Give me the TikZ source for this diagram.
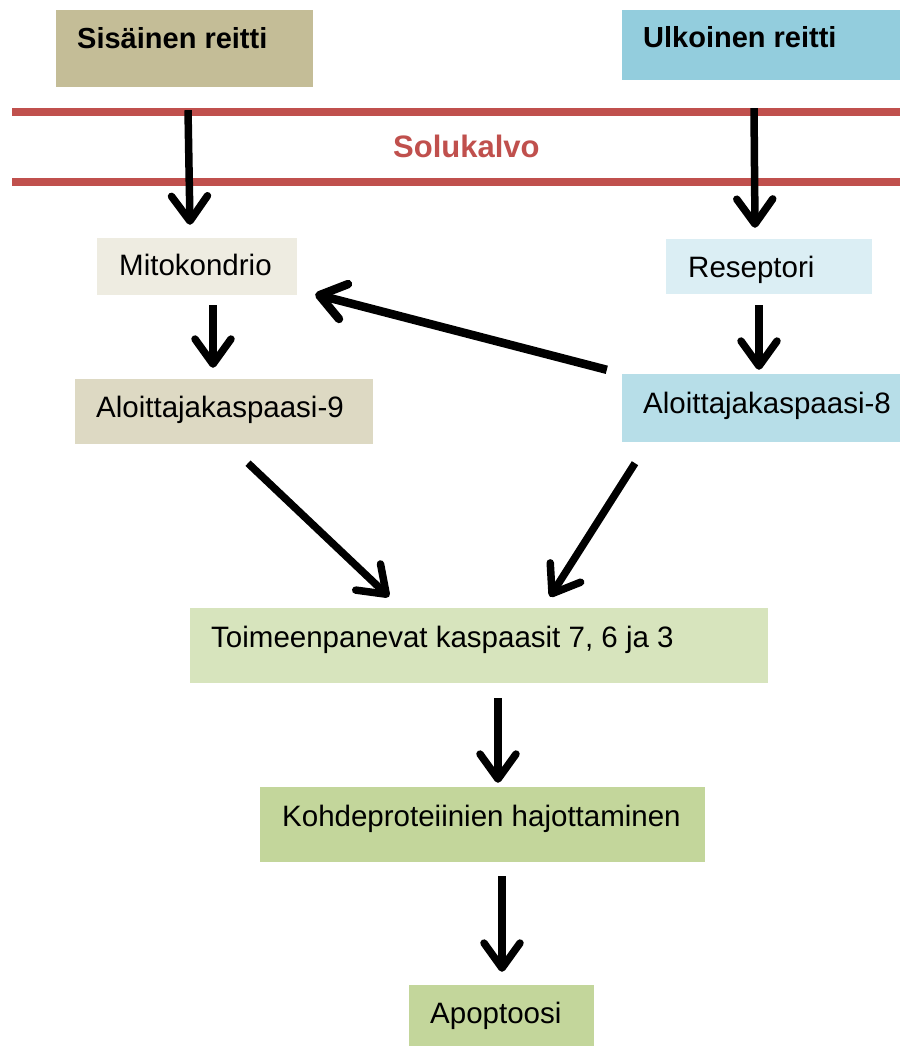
\documentclass[tikz,border=0pt]{standalone}
\usepackage{fontspec}
\setmainfont{Liberation Sans}
\usetikzlibrary{arrows.meta}
\definecolor{cSis}{HTML}{C4BD97}
\definecolor{cUlk}{HTML}{93CDDD}
\definecolor{cMito}{HTML}{EEECE1}
\definecolor{cRes}{HTML}{DBEEF4}
\definecolor{cAlo9}{HTML}{DDD9C3}
\definecolor{cAlo8}{HTML}{B7DEE8}
\definecolor{cToim}{HTML}{D7E4BD}
\definecolor{cKoh}{HTML}{C3D69B}
\definecolor{cRed}{HTML}{C0504D}
\tikzset{
  box/.style={rectangle, draw=none, inner sep=0pt},
  lbl/.style={anchor=base west, inner sep=0pt, font=\fontsize{29.5}{34}\selectfont},
  blbl/.style={lbl, font=\fontsize{29}{34}\selectfont\bfseries},
  arr/.style={line width=7.5pt, -{Straight Barb[length=25pt, width=36pt, round]}},
  membrane/.style={draw=cRed, line width=8pt}
}
\begin{document}
\begin{tikzpicture}[x=1pt, y=-1pt]
\useasboundingbox (0,0) rectangle (900,1048);
% membrane
\coordinate (m1a) at (12,112.5); \coordinate (m1b) at (900,112.5);
\coordinate (m2a) at (12,182); \coordinate (m2b) at (900,182);
\draw[membrane] (m1a) -- (m1b);
\draw[membrane] (m2a) -- (m2b);
\node[blbl, text=cRed, font=\fontsize{31}{36}\selectfont\bfseries] (solu) at (393,158) {Solukalvo};
% boxes
\node[box, fill=cSis, minimum width=257pt, minimum height=77pt] (sis) at (184.5,48.5) {};
\node[box, fill=cUlk, minimum width=278pt, minimum height=70pt] (ulk) at (761,45) {};
\node[box, fill=cMito, minimum width=200pt, minimum height=57pt] (mito) at (197,266.5) {};
\node[box, fill=cRes, minimum width=206pt, minimum height=55pt] (res) at (769,266.5) {};
\node[box, fill=cAlo9, minimum width=298pt, minimum height=65pt] (alo9) at (224,411.5) {};
\node[box, fill=cAlo8, minimum width=278pt, minimum height=68pt] (alo8) at (761,408) {};
\node[box, fill=cToim, minimum width=578pt, minimum height=75pt] (toim) at (479,645.5) {};
\node[box, fill=cKoh, minimum width=445pt, minimum height=75pt] (koh) at (482.5,824.5) {};
\node[box, fill=cKoh, minimum width=185pt, minimum height=61pt] (apo) at (501.5,1015.5) {};
% labels
\node[blbl] (tsis) at (77,49) {Sisäinen reitti};
\node[blbl] (tulk) at (643,48) {Ulkoinen reitti};
\node[lbl] (tmito) at (119,276) {Mitokondrio};
\node[lbl] (tres) at (688,278) {Reseptori};
\node[lbl] (talo9) at (96,417) {Aloittajakaspaasi-9};
\node[lbl] (talo8) at (643,413) {Aloittajakaspaasi-8};
\node[lbl] (ttoim) at (211,647) {Toimeenpanevat kaspaasit 7, 6 ja 3};
\node[lbl] (tkoh) at (282,826) {Kohdeproteiinien hajottaminen};
\node[lbl] (tapo) at (430,1023) {Apoptoosi};
% arrows
\draw[arr] ([shift={(3.5,23)}]sis.south) -- ([shift={(-7,-13)}]mito.north);
\draw[arr] ([shift={(-7,28)}]ulk.south) -- ([shift={(-14,-11)}]res.north);
\draw[arr] ([shift={(16,10)}]mito.south) -- ([shift={(-11,-11)}]alo9.north);
\draw[arr] ([shift={(-10,11)}]res.south) -- ([shift={(-2,-4)}]alo8.north);
\draw[arr, line width=8.5pt] ([shift={(-15,-4)}]alo8.north west) -- ([shift={(18,-1)}]mito.south east);
\draw[arr] ([shift={(24,19)}]alo9.south) -- ([shift={(-90,-11)}]toim.north);
\draw[arr] ([shift={(-126,21)}]alo8.south) -- ([shift={(71,-11)}]toim.north);
\draw[arr] ([shift={(19,15)}]toim.south) -- ([shift={(15.5,-4)}]koh.north);
\draw[arr] ([shift={(19.5,14)}]koh.south) -- ([shift={(0.5,-13)}]apo.north);
\end{tikzpicture}
\end{document}
